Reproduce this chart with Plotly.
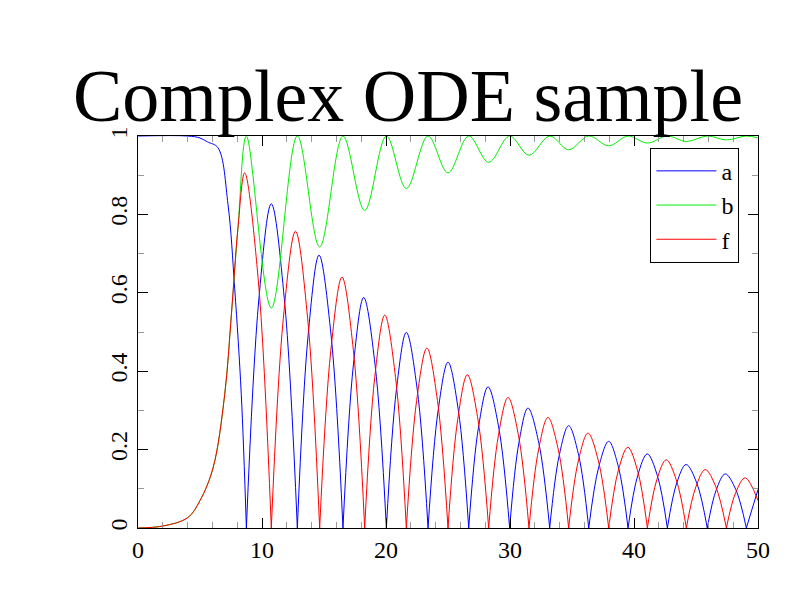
import plotly.graph_objects as go

# values
a_x = [0, 4, 5, 5.6, 6.45, 7.26, 7.8, 8.33, 8.74,
       9.75, 10.75, 11.8, 12.85, 13.72, 14.6, 15.57, 16.53,
       17.37, 18.2, 19.12, 20.03, 20.84, 21.64, 22.52, 23.39,
       24.2, 25.0, 25.84, 26.67, 27.45, 28.23, 29.1, 29.97,
       30.71, 31.45, 32.33, 33.2, 33.97, 34.73, 35.54, 36.35,
       37.16, 37.96, 38.74, 39.52, 40.3, 41.07, 41.88, 42.69,
       43.45, 44.2, 45.06, 45.91, 46.64, 47.36, 48.21, 49.06, 50]
a_y = [1, 1, 0.995, 0.985, 0.97, 0.825, 0.61, 0.34, 0,
       0.585, 0.827, 0.585, 0, 0.492, 0.696, 0.492, 0,
       0.416, 0.588, 0.416, 0, 0.353, 0.499, 0.353, 0,
       0.299, 0.423, 0.299, 0, 0.255, 0.36, 0.255, 0,
       0.216, 0.306, 0.216, 0, 0.185, 0.261, 0.185, 0,
       0.156, 0.221, 0.156, 0, 0.134, 0.189, 0.134, 0,
       0.115, 0.162, 0.115, 0, 0.098, 0.138, 0.098, 0, 0.098]

f_x = [0, 2, 4, 5, 6.05, 6.99, 7.53, 8.06, 8.6, 9.68, 10.75,
       11.72, 12.7, 13.68, 14.65, 15.55, 16.45, 17.37, 18.28,
       19.09, 19.9, 20.77, 21.64, 22.47, 23.3, 24.15, 25.0,
       25.78, 26.56, 27.42, 28.28, 29.06, 29.84, 30.69, 31.53,
       32.3, 33.06, 33.9, 34.73, 35.51, 36.29, 37.13, 37.96,
       38.73, 39.5, 40.29, 41.08, 41.84, 42.6, 43.41, 44.22,
       44.99, 45.75, 46.6, 47.45, 48.21, 48.97, 50]
f_y = [0, 0.005, 0.026, 0.07, 0.153, 0.34, 0.544, 0.765, 0.906, 0.64, 0,
       0.535, 0.757, 0.535, 0, 0.453, 0.64, 0.453, 0,
       0.384, 0.543, 0.384, 0, 0.325, 0.459, 0.325, 0,
       0.276, 0.391, 0.276, 0, 0.235, 0.333, 0.235, 0,
       0.199, 0.282, 0.199, 0, 0.171, 0.242, 0.171, 0,
       0.146, 0.206, 0.146, 0, 0.123, 0.174, 0.123, 0,
       0.105, 0.149, 0.105, 0, 0.091, 0.128, 0.07]

b_x = [0, 2, 4, 5, 6.05, 6.99, 7.53, 8.06, 8.74, 10.75, 12.85, 14.65,
       16.53, 18.28, 20.03, 21.64, 23.39, 25.0, 26.67, 28.28, 29.97,
       31.53, 33.2, 34.73, 36.35, 37.96, 39.52, 41.08, 42.69, 44.22,
       45.91, 47.45, 49.06, 50]
b_y = [0, 0.005, 0.026, 0.07, 0.153, 0.34, 0.544, 0.765, 1, 0.561, 1, 0.717,
       1, 0.81, 1, 0.866, 1, 0.906, 1, 0.933, 1,
       0.951, 1, 0.965, 1, 0.975, 1, 0.982, 1, 0.986,
       1, 0.99, 1, 0.995]


def split_lobes(xs, ys):
    # break the line at inner zeros so each lobe gets its own spline (sharp cusps)
    ox, oy = [], []
    for i, (x, y) in enumerate(zip(xs, ys)):
        ox.append(x)
        oy.append(y)
        if y == 0 and 0 < i < len(xs) - 1 and x > 1:
            ox += [None, x]
            oy += [None, 0]
    return ox, oy


ax_, ay_ = split_lobes(a_x, a_y)
fx_, fy_ = split_lobes(f_x, f_y)

serif = "Liberation Serif"
fig = go.Figure()
fig.add_trace(go.Scatter(x=ax_, y=ay_, name="a", mode="lines",
                         line=dict(color="#0000ff", width=1, shape="spline"),
                         connectgaps=False))
fig.add_trace(go.Scatter(x=b_x, y=b_y, name="b", mode="lines",
                         line=dict(color="#00ee00", width=1, shape="spline")))
fig.add_trace(go.Scatter(x=fx_, y=fy_, name="f", mode="lines",
                         line=dict(color="#ff0000", width=1, shape="spline"),
                         connectgaps=False))

axis = dict(showgrid=False, zeroline=False, showline=True, linecolor="black",
            linewidth=1, mirror="ticks", ticks="inside", ticklen=10, automargin=False,
            tickcolor="black", tickfont=dict(family=serif, size=24, color="black"))
fig.update_xaxes(range=[0, 50], dtick=10, minor=dict(dtick=2, ticks="inside", ticklen=6, tickcolor="#999"),
                 **axis)
fig.update_yaxes(range=[0, 1], dtick=0.2, tickangle=-90,
                 minor=dict(dtick=0.1, ticks="inside", ticklen=6, tickcolor="#999"), **axis)

fig.update_layout(
    width=800, height=600,
    title=dict(text="Complex ODE sample", x=0.5, xanchor="center", y=0.855, yanchor="middle",
               yref="container", font=dict(family=serif, size=74, color="black")),
    margin=dict(l=130, r=50, t=128, b=80, autoexpand=False),
    plot_bgcolor="white", paper_bgcolor="white",
    legend=dict(x=0.97, y=0.97, xanchor="right", yanchor="top", bordercolor="black",
                borderwidth=1, bgcolor="white", itemwidth=60, tracegroupgap=4,
                font=dict(family=serif, size=24, color="black")),
)
fig.write_html("out.html")
